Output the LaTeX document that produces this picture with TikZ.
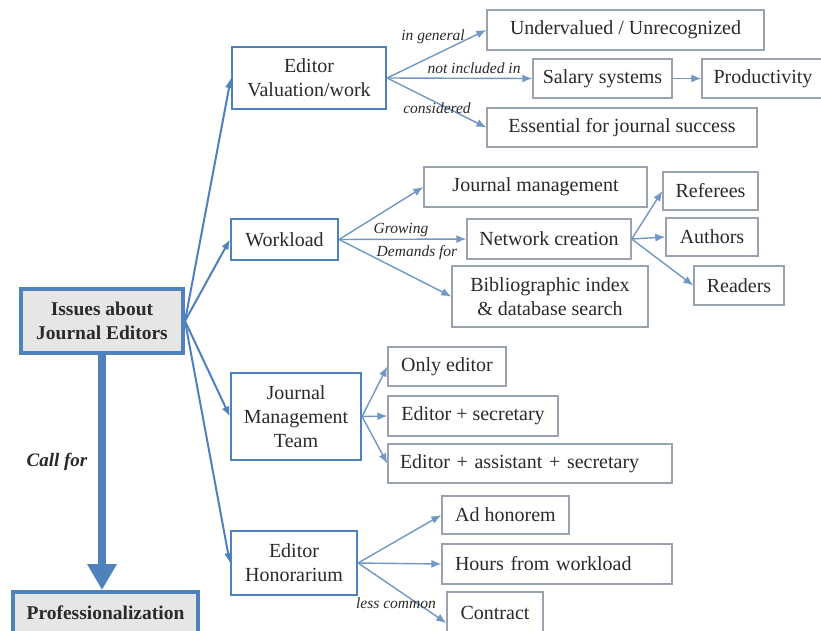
\documentclass[tikz,border=0pt]{standalone}
\usepackage{fontspec}
\setmainfont{Liberation Serif}
\usetikzlibrary{arrows.meta}
\definecolor{mainblue}{HTML}{4F81BD}
\definecolor{lightblue}{HTML}{7097C6}
\definecolor{leafgray}{HTML}{9AA3AD}
\definecolor{txt}{HTML}{2A2A2A}
\definecolor{fillgray}{HTML}{E6E6E6}
\begin{document}
\begin{tikzpicture}[x=1pt,y=-1pt,
  every node/.style={font=\fontsize{20}{24}\selectfont, text=txt, inner sep=0pt, align=center},
  leaf/.style={draw=leafgray, line width=1.4pt, fill=white},
  mid/.style={draw=mainblue, line width=2.2pt, fill=white},
  top/.style={draw=mainblue, line width=4pt, fill=fillgray, font=\fontsize{19.5}{23.5}\selectfont\bfseries},
  elabel/.style={font=\fontsize{15.5}{18}\selectfont\itshape},
  mainedge/.style={draw=mainblue, line width=2pt, -{Latex[length=10pt,width=8pt]}},
  subedge/.style={draw=lightblue, line width=1.4pt, -{Latex[length=10pt,width=8pt]}}]
\fill[white] (0,0) rectangle (821,630);
\useasboundingbox (0,0) rectangle (821,630);

% top level
\node[top, minimum width=162pt, minimum height=64pt] (issues) at (102,321) {Issues about\\Journal Editors};
\node[top, minimum width=185pt, minimum height=42pt] (prof) at (105.5,613) {Professionalization};

% second level
\node[mid, minimum width=154pt, minimum height=62pt] (evw) at (309,78) {Editor\\Valuation/work};
\node[mid, minimum width=107pt, minimum height=41pt] (work) at (284.5,239.5) {Workload};
\node[mid, minimum width=130pt, minimum height=87pt] (jmt) at (296,416.5) {Journal\\Management\\Team};
\node[mid, minimum width=126pt, minimum height=64pt] (eh) at (294,563) {Editor\\Honorarium};

% leaves: valuation
\node[leaf, minimum width=277pt, minimum height=40pt] (under) at (625.5,30) {Undervalued / Unrecognized};
\node[leaf, minimum width=139pt, minimum height=39pt] (salary) at (602.5,78.5) {Salary systems};
\node[leaf, minimum width=122pt, minimum height=39pt] (prod) at (763,78.5) {Productivity};
\node[leaf, minimum width=270pt, minimum height=39pt] (ess) at (622,127.5) {Essential for journal success};

% leaves: workload
\node[leaf, minimum width=223pt, minimum height=40pt] (jm) at (535.5,187) {Journal management};
\node[leaf, minimum width=164pt, minimum height=40pt] (net) at (549,239) {Network creation};
\node[leaf, minimum width=196pt, minimum height=61pt] (bib) at (550,296.5) {Bibliographic index\\\& database search};
\node[leaf, minimum width=95pt, minimum height=38pt] (ref) at (710.5,191) {Referees};
\node[leaf, minimum width=92pt, minimum height=38pt] (auth) at (712,237) {Authors};
\node[leaf, minimum width=90pt, minimum height=39pt] (read) at (739,285.5) {Readers};

% leaves: team
\node[leaf, minimum width=118pt, minimum height=39pt] (only) at (447,366.5) {Only editor};
\node[leaf, minimum width=170pt, minimum height=40pt] (es) at (473,416) {Editor + secretary};
\node[leaf, inner xsep=12pt, text width=260pt, align=left, minimum height=39pt] (eas) at (530,463.5) {Editor + assistant + secretary};

% leaves: honorarium
\node[leaf, minimum width=127pt, minimum height=38pt] (ad) at (505.5,515) {Ad honorem};
\node[leaf, inner xsep=13pt, text width=204pt, align=left, minimum height=40pt] (hours) at (557,564) {Hours from workload};
\node[leaf, minimum width=96pt, minimum height=42pt] (contract) at (495,613) {Contract};

% main vertical arrow
\draw[mainblue, line width=8pt, -{Triangle[length=26pt,width=28pt]}] (issues.south) -- (issues.south |- prof.north);
\node[font=\fontsize{19}{23}\selectfont\bfseries\itshape] (callfor) at (57,462) {Call for};

% edges from issues
\draw[mainedge] (issues.east) -- (evw.west);
\draw[mainedge] (issues.east) -- (work.west);
\draw[mainedge] (issues.east) -- (jmt.west);
\draw[mainedge] (issues.east) -- (eh.west);

% valuation edges
\draw[subedge] (evw.east) -- (under.west);
\draw[subedge] (evw.east) -- (salary.west);
\draw[subedge] (evw.east) -- (ess.west);
\draw[subedge] (salary.east) -- (prod.west);
\node[elabel] (lgen) at (433,37) {in general};
\node[elabel] (lnot) at (474,68) {not included in};
\node[elabel] (lcons) at (437,108) {considered};

% workload edges
\draw[subedge] (work.east) -- (jm.west);
\draw[subedge] (work.east) -- (net.west);
\draw[subedge] (work.east) -- (bib.west);
\node[elabel] (lgrow) at (401,230) {Growing};
\node[elabel] (ldem) at (417,253) {Demands for};
\draw[subedge] (net.east) -- (ref.west);
\draw[subedge] (net.east) -- (auth.west);
\draw[subedge] (net.east) -- (read.west);

% team edges
\draw[subedge] (jmt.east) -- (only.west);
\draw[subedge] (jmt.east) -- (es.west);
\draw[subedge] (jmt.east) -- (eas.west);

% honorarium edges
\draw[subedge] (eh.east) -- (ad.west);
\draw[subedge] (eh.east) -- (hours.west);
\draw[subedge] (eh.east) -- ([yshift=-10pt]contract.west);
\node[elabel] (lless) at (396,603) {less common};
\end{tikzpicture}
\end{document}
